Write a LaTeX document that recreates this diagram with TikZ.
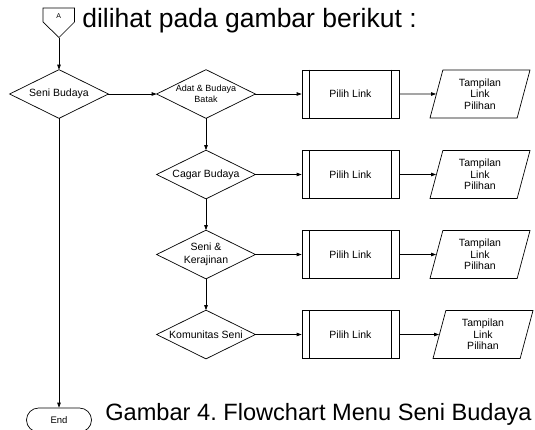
\documentclass[tikz,border=0pt]{standalone}
\usepackage{fontspec}
\setmainfont{Liberation Sans}
\usetikzlibrary{shapes.geometric,arrows.meta}
\begin{document}
\frenchspacing
\begin{tikzpicture}[x=1pt,y=1pt,line width=0.7pt,
  arr/.style={-{Triangle[length=5pt,width=3.5pt]}},
  dec/.style={rectangle,minimum width=98pt,minimum height=48pt,inner sep=0pt,align=center,font=\fontsize{10.5}{13}\selectfont,
    append after command={\pgfextra{\let\decnode\tikzlastnode}
      (\decnode.west) -- (\decnode.north) -- (\decnode.east) -- (\decnode.south) -- cycle}},
  proc/.style={draw,rectangle,minimum width=97pt,minimum height=48pt,inner sep=0pt,font=\fontsize{10.5}{12}\selectfont},
  io/.style={draw,trapezium,trapezium left angle=67,trapezium right angle=113,trapezium stretches body,minimum width=100pt,minimum height=48pt,inner sep=0pt,align=center,font=\fontsize{10.5}{11.3}\selectfont},
  term/.style={draw,rectangle,rounded corners=12pt,minimum width=65pt,minimum height=24pt,inner sep=0pt,font=\fontsize{9.5}{11}\selectfont},
  big/.style={inner sep=0pt,anchor=base west}
]
\useasboundingbox (0,0) rectangle (535,-429);
% off-page connector A
\draw (43,-8) -- (74.5,-8) -- (74.5,-22) -- (59,-37.5) -- (43,-22) -- cycle;
\node[inner sep=0pt,font=\fontsize{7}{8}\selectfont] (A) at (58.8,-16.5) {A};
\coordinate (Ap) at (59,-37.5);
\node[big,font=\fontsize{26.5}{30}\selectfont] (t1) at (82,-27) {dilihat pada gambar berikut :};

% main column
\draw node[dec] (sb) at (59,-94) {Seni Budaya};
\node[term] (end) at (59,-420) {End};
\node[big,font=\fontsize{23.6}{28}\selectfont] (cap) at (105,-420) {Gambar 4. Flowchart Menu Seni Budaya};

% sub menu column
\draw node[dec,font=\fontsize{9}{10.5}\selectfont] (d1) at (206,-94) {Adat \& Budaya\\Batak};
\draw node[dec] (d2) at (206,-174.5) {Cagar Budaya};
\draw node[dec] (d3) at (206,-254.5) {Seni \&\\Kerajinan};
\draw node[dec] (d4) at (206,-334.5) {Komunitas Seni};

% processes
\foreach \i/\y in {1/-94,2/-174.5,3/-254.5,4/-334.5}{
  \node[proc] (b\i) at (350.5,\y) {Pilih Link};
  \draw ([xshift=8pt]b\i.north west) -- ([xshift=8pt]b\i.south west)
        ([xshift=-8pt]b\i.north east) -- ([xshift=-8pt]b\i.south east);
}
\node[io] (p1) at (480,-94) {Tampilan\\Link\\Pilihan};
\node[io] (p2) at (480,-174.5) {Tampilan\\Link\\Pilihan};
\node[io] (p3) at (480,-254.5) {Tampilan\\Link\\Pilihan};
\node[io] (p4) at (483,-334.5) {Tampilan\\Link\\Pilihan};

% connectors
\draw[arr] (Ap) -- (sb.north);
\draw[arr] (sb.south) -- (end.north);
\draw[arr] (sb.east) -- (d1.west);
\draw[arr] (d1.south) -- (d2.north);
\draw[arr] (d2.south) -- (d3.north);
\draw[arr] (d3.south) -- (d4.north);
\foreach \i in {1,2,3,4}{
  \draw[arr] (d\i.east) -- (b\i.west);
  \draw[arr] (b\i.east) -- (p\i);
}
\end{tikzpicture}
\end{document}
